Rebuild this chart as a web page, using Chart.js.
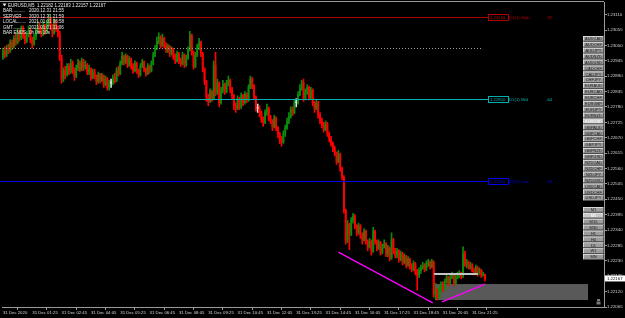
<!DOCTYPE html>
<html><head><meta charset="utf-8">
<script src="https://cdn.jsdelivr.net/npm/chart.js@4.4.1/dist/chart.umd.min.js"></script>
<style>html,body{margin:0;padding:0;background:#000;overflow:hidden}canvas{display:block}</style>
</head><body>
<canvas id="c" width="625" height="318"></canvas>
<script>
// ---- DATA (EURUSD M5, 31 Dec 2020) ----
const firstOpen = 1.22960;
const closes = [
1.22980,1.22965,1.22990,1.22980,1.23010,1.22995,1.23025,1.23010,1.23045,1.23025,
1.23060,1.23035,1.23015,1.23040,1.23055,1.23020,1.23005,1.23030,1.23050,1.23070,
1.23055,1.23040,1.23070,1.23050,1.23080,1.23095,1.23065,1.23045,1.23080,1.23060,
1.23040,1.22955,1.22880,1.22910,1.22895,1.22925,1.22905,1.22935,1.22910,1.22890,
1.22920,1.22935,1.22915,1.22940,1.22920,1.22930,1.22905,1.22915,1.22885,1.22905,
1.22890,1.22870,1.22895,1.22875,1.22890,1.22860,1.22880,1.22850,1.22865,1.22865,
1.22885,1.22875,1.22910,1.22900,1.22935,1.22960,1.22940,1.22960,1.22930,1.22950,
1.22925,1.22910,1.22935,1.22910,1.22895,1.22925,1.22940,1.22915,1.22900,1.22925,
1.22910,1.22935,1.22965,1.22990,1.23015,1.23030,1.23000,1.23025,1.23000,1.22985,
1.22995,1.22970,1.22985,1.22960,1.22945,1.22970,1.22945,1.22935,1.22965,1.22930,
1.22955,1.22985,1.23035,1.22975,1.22925,1.22965,1.22995,1.23010,1.22970,1.22915,
1.22870,1.22815,1.22800,1.22835,1.22810,1.22930,1.22830,1.22865,1.22795,1.22840,
1.22860,1.22835,1.22865,1.22875,1.22840,1.22820,1.22785,1.22775,1.22810,1.22780,
1.22820,1.22795,1.22825,1.22805,1.22850,1.22880,1.22855,1.22815,1.22775,1.22775,
1.22760,1.22735,1.22725,1.22760,1.22775,1.22740,1.22730,1.22710,1.22740,1.22705,
1.22685,1.22665,1.22655,1.22685,1.22705,1.22730,1.22745,1.22770,1.22760,1.22795,
1.22795,1.22825,1.22845,1.22865,1.22810,1.22835,1.22850,1.22815,1.22840,1.22795,
1.22775,1.22795,1.22750,1.22730,1.22715,1.22700,1.22720,1.22685,1.22665,1.22650,
1.22630,1.22615,1.22585,1.22610,1.22560,1.22530,1.22410,1.22305,1.22360,1.22325,
1.22375,1.22390,1.22355,1.22330,1.22355,1.22320,1.22305,1.22335,1.22300,1.22280,
1.22300,1.22265,1.22335,1.22300,1.22275,1.22295,1.22260,1.22280,1.22290,1.22255,
1.22275,1.22240,1.22305,1.22265,1.22250,1.22265,1.22235,1.22255,1.22225,1.22245,
1.22215,1.22235,1.22210,1.22200,1.22220,1.22190,1.22180,1.22195,1.22205,1.22215,
1.22200,1.22220,1.22225,1.22210,1.22225,1.22110,1.22125,1.22100,1.22125,1.22145,
1.22130,1.22155,1.22170,1.22150,1.22170,1.22180,1.22150,1.22170,1.22180,1.22185,
1.22175,1.22255,1.22215,1.22225,1.22205,1.22215,1.22195,1.22190,1.22205,1.22185,
1.22195,1.22180,1.22182,1.22167];
const highs = [
1.22990,1.22995,1.23000,1.23005,1.23020,1.23020,1.23035,1.23040,1.23060,1.23055,
1.23070,1.23070,1.23045,1.23050,1.23070,1.23060,1.23030,1.23040,1.23060,1.23085,
1.23080,1.23065,1.23085,1.23075,1.23090,1.23110,1.23100,1.23075,1.23095,1.23090,
1.23070,1.23050,1.22965,1.22920,1.22925,1.22935,1.22935,1.22950,1.22945,1.22920,
1.22930,1.22950,1.22945,1.22955,1.22950,1.22945,1.22935,1.22930,1.22920,1.22915,
1.22915,1.22895,1.22905,1.22900,1.22900,1.22895,1.22890,1.22885,1.22875,1.22880,
1.22895,1.22900,1.22920,1.22925,1.22945,1.22975,1.22965,1.22970,1.22965,1.22960,
1.22955,1.22935,1.22945,1.22940,1.22915,1.22935,1.22950,1.22945,1.22920,1.22935,
1.22930,1.22945,1.22975,1.23000,1.23030,1.23045,1.23035,1.23040,1.23030,1.23010,
1.23005,1.23000,1.22995,1.22990,1.22970,1.22980,1.22975,1.22955,1.22975,1.22970,
1.22965,1.22995,1.23050,1.23040,1.22980,1.22975,1.23005,1.23025,1.23015,1.22975,
1.22920,1.22875,1.22825,1.22845,1.22840,1.22945,1.22975,1.22880,1.22870,1.22850,
1.22875,1.22865,1.22875,1.22890,1.22880,1.22850,1.22825,1.22795,1.22820,1.22815,
1.22830,1.22825,1.22835,1.22830,1.22860,1.22890,1.22885,1.22860,1.22820,1.22790,
1.22785,1.22765,1.22745,1.22770,1.22790,1.22780,1.22750,1.22735,1.22750,1.22745,
1.22710,1.22690,1.22675,1.22695,1.22715,1.22740,1.22760,1.22780,1.22780,1.22805,
1.22810,1.22835,1.22860,1.22875,1.22880,1.22845,1.22860,1.22855,1.22850,1.22845,
1.22800,1.22805,1.22800,1.22760,1.22740,1.22725,1.22730,1.22725,1.22690,1.22675,
1.22655,1.22640,1.22620,1.22625,1.22615,1.22565,1.22535,1.22415,1.22375,1.22365,
1.22385,1.22400,1.22395,1.22360,1.22365,1.22360,1.22330,1.22345,1.22340,1.22305,
1.22310,1.22305,1.22350,1.22340,1.22305,1.22305,1.22300,1.22290,1.22305,1.22295,
1.22285,1.22280,1.22330,1.22310,1.22275,1.22275,1.22270,1.22265,1.22260,1.22255,
1.22250,1.22245,1.22240,1.22220,1.22230,1.22225,1.22200,1.22205,1.22215,1.22225,
1.22220,1.22230,1.22235,1.22230,1.22235,1.22230,1.22150,1.22130,1.22135,1.22155,
1.22155,1.22165,1.22180,1.22175,1.22180,1.22190,1.22185,1.22180,1.22190,1.22195,
1.22190,1.22280,1.22265,1.22235,1.22230,1.22225,1.22220,1.22205,1.22215,1.22210,
1.22205,1.22200,1.22190,1.22183];
const lows = [
1.22950,1.22955,1.22960,1.22970,1.22975,1.22985,1.22990,1.23000,1.23005,1.23015,
1.23020,1.23025,1.23005,1.23010,1.23030,1.23010,1.22990,1.23000,1.23020,1.23045,
1.23045,1.23030,1.23035,1.23040,1.23045,1.23070,1.23055,1.23030,1.23040,1.23050,
1.23030,1.22945,1.22865,1.22870,1.22880,1.22890,1.22895,1.22900,1.22900,1.22875,
1.22885,1.22910,1.22905,1.22910,1.22910,1.22915,1.22895,1.22895,1.22875,1.22880,
1.22880,1.22860,1.22865,1.22865,1.22870,1.22850,1.22855,1.22840,1.22840,1.22850,
1.22860,1.22865,1.22870,1.22890,1.22895,1.22930,1.22930,1.22935,1.22920,1.22925,
1.22915,1.22900,1.22905,1.22900,1.22885,1.22890,1.22920,1.22905,1.22890,1.22895,
1.22900,1.22905,1.22930,1.22960,1.22985,1.23005,1.22990,1.22995,1.22990,1.22975,
1.22975,1.22960,1.22965,1.22950,1.22935,1.22940,1.22935,1.22925,1.22930,1.22920,
1.22925,1.22950,1.22980,1.22965,1.22915,1.22920,1.22960,1.22985,1.22960,1.22905,
1.22860,1.22800,1.22785,1.22795,1.22800,1.22805,1.22820,1.22825,1.22780,1.22790,
1.22830,1.22825,1.22830,1.22855,1.22830,1.22810,1.22770,1.22760,1.22770,1.22770,
1.22775,1.22785,1.22790,1.22795,1.22800,1.22845,1.22845,1.22805,1.22765,1.22760,
1.22745,1.22725,1.22710,1.22720,1.22750,1.22730,1.22720,1.22695,1.22705,1.22695,
1.22670,1.22650,1.22640,1.22650,1.22675,1.22700,1.22720,1.22740,1.22750,1.22755,
1.22780,1.22790,1.22820,1.22840,1.22800,1.22805,1.22825,1.22805,1.22810,1.22785,
1.22760,1.22770,1.22740,1.22720,1.22705,1.22690,1.22695,1.22675,1.22655,1.22640,
1.22620,1.22605,1.22575,1.22580,1.22550,1.22520,1.22400,1.22290,1.22295,1.22270,
1.22320,1.22365,1.22345,1.22320,1.22325,1.22310,1.22290,1.22300,1.22290,1.22265,
1.22275,1.22250,1.22260,1.22290,1.22265,1.22270,1.22250,1.22255,1.22275,1.22245,
1.22245,1.22230,1.22235,1.22255,1.22240,1.22240,1.22225,1.22230,1.22215,1.22220,
1.22205,1.22210,1.22200,1.22190,1.22195,1.22180,1.22125,1.22170,1.22185,1.22200,
1.22190,1.22195,1.22210,1.22200,1.22205,1.22100,1.22095,1.22090,1.22095,1.22120,
1.22120,1.22125,1.22150,1.22140,1.22145,1.22165,1.22140,1.22145,1.22165,1.22170,
1.22165,1.22170,1.22210,1.22205,1.22200,1.22200,1.22190,1.22180,1.22185,1.22175,
1.22180,1.22170,1.22175,1.22157];

const yTicks = [1.23110,1.23055,1.23000,1.22945,1.22890,1.22835,1.22780,1.22725,1.22670,1.22615,
  1.22560,1.22505,1.22450,1.22395,1.22340,1.22285,1.22230,1.22175,1.22120,1.22065];
const xTickBars = [0,16,32,48,64,80,96,112,128,144,160,176,192,208,224,240,256];
const xLabels = ['31 Dec 2020','31 Dec 01:25','31 Dec 02:45','31 Dec 04:05','31 Dec 05:25','31 Dec 06:45',
  '31 Dec 08:05','31 Dec 09:25','31 Dec 10:45','31 Dec 12:05','31 Dec 13:25','31 Dec 14:45','31 Dec 16:05',
  '31 Dec 17:25','31 Dec 18:45','31 Dec 20:05','31 Dec 21:25'];

const levelPrices = [1.23103, 1.22810, 1.22516];
const levelNames = ['D1(1) High', 'D1(1) Mid', 'D1(1) Low'];
const levelPips = ['-92', '-64', '-36'];
const levelColors = ['#b00000', '#00b0b0', '#0000e6'];
const levelEndBar = 264.6;
const dottedLevel = 1.22990, dottedEndBar = 261.9;
const trendLines = [[183, 1.22261, 234.5, 1.22080], [239.5, 1.22083, 263, 1.22147]];
const rangeBox = [235.7, 1.22147, 319.2, 1.22090];
const rangeTop = [235.2, 259.1, 1.22183];

const symbols = ['AUDCAD','AUDCHF','AUDJPY','AUDNZD','AUDUSD','CADCHF','CADJPY','CHFJPY','EURAUD','EURCAD',
  'EURCHF','EURGBP','EURJPY','EURNZD','EURUSD','GBPAUD','GBPCAD','GBPCHF','GBPJPY','GBPNZD','GBPUSD',
  'NZDCAD','NZDCHF','NZDJPY','NZDUSD','USDCAD','USDCHF','USDJPY'];
const timeframes = ['M1','M5','M15','M30','H1','H4','D1','W1','MN'];
const infoHeader = 'EURUSD,M5  1.22182 1.22183 1.22157 1.22167';
const infoKeys = ['BAR..........','SERVER.....','LOCAL.......','GMT..........','BAR ENDS...'];
const infoVals = ['2020.12.31 21:55','2020.12.31 21:59','2021.01.01 06:58','2021.01.01 11:06','0h 0m 10s'];

// ---- build ----
const BULL = '#0a8c0a', BEAR = '#ff0000', DOJI = '#e0e0e0';
const opens = closes.map((c, i) => i === 0 ? firstOpen : closes[i - 1]);
const colors = closes.map((c, i) => c > opens[i] ? BULL : (c < opens[i] ? BEAR : DOJI));
const wickData = closes.map((c, i) => ({x: i, y: [lows[i], highs[i]]}));
const bodyData = closes.map((c, i) => ({x: i, y: [opens[i], c]}));
const FONT = '"Liberation Sans", Arial, sans-serif';

function button(ctx, x, y, w, h, text, hi) {
  ctx.fillStyle = hi ? '#c8c8c8' : '#9c9c9c';
  ctx.fillRect(x, y, w, h);
  ctx.fillStyle = '#e6e6e6';
  ctx.fillRect(x, y, w, 0.8); ctx.fillRect(x, y, 0.8, h);
  ctx.fillStyle = '#444';
  ctx.fillRect(x, y + h - 0.8, w, 0.8); ctx.fillRect(x + w - 0.8, y, 0.8, h);
  ctx.fillStyle = hi ? '#ffffff' : '#1c1c1c';
  ctx.font = '4px ' + FONT;
  ctx.textAlign = 'center'; ctx.textBaseline = 'middle';
  ctx.fillText(text, x + w / 2, y + h / 2 + 0.3);
}

const overlay = {
  id: 'overlay',
  beforeDatasetsDraw(chart) {
    const {ctx, scales: {x, y}} = chart;
    ctx.save();
    const x0 = x.getPixelForValue(rangeBox[0]), x1 = x.getPixelForValue(rangeBox[2]);
    const y0 = y.getPixelForValue(rangeBox[1]), y1 = y.getPixelForValue(rangeBox[3]);
    ctx.fillStyle = '#595959';
    ctx.fillRect(x0, y0, x1 - x0, y1 - y0);
    ctx.restore();
  },
  afterDatasetsDraw(chart) {
    const {ctx, scales: {x, y}} = chart;
    ctx.save();
    let yy = Math.round(y.getPixelForValue(dottedLevel)) + 0.5;
    ctx.strokeStyle = '#a0a0a0'; ctx.lineWidth = 1; ctx.setLineDash([1, 2]);
    ctx.beginPath(); ctx.moveTo(0, yy); ctx.lineTo(x.getPixelForValue(dottedEndBar), yy); ctx.stroke();
    ctx.setLineDash([]);
    const xe = x.getPixelForValue(levelEndBar);
    levelPrices.forEach((p, k) => {
      const ly = Math.round(y.getPixelForValue(p)) + 0.5;
      ctx.strokeStyle = levelColors[k]; ctx.lineWidth = 1;
      ctx.beginPath(); ctx.moveTo(0, ly); ctx.lineTo(xe, ly); ctx.stroke();
      ctx.strokeRect(Math.round(xe) + 0.5, ly - 3, 20, 6);
      ctx.fillStyle = levelColors[k];
      ctx.font = '4.3px ' + FONT; ctx.textBaseline = 'middle'; ctx.textAlign = 'left';
      ctx.fillText(p.toFixed(5), xe + 2, ly + 0.3);
      ctx.fillText(levelNames[k], xe + 21, ly + 0.3);
      ctx.fillText(levelPips[k], xe + 58, ly + 0.3);
    });
    ctx.strokeStyle = '#c4c4c4'; ctx.lineWidth = 2;
    const ry = y.getPixelForValue(rangeTop[2]);
    ctx.beginPath(); ctx.moveTo(x.getPixelForValue(rangeTop[0]), ry); ctx.lineTo(x.getPixelForValue(rangeTop[1]), ry); ctx.stroke();
    ctx.strokeStyle = '#ff00ff'; ctx.lineWidth = 1.3;
    trendLines.forEach(t => {
      ctx.beginPath();
      ctx.moveTo(x.getPixelForValue(t[0]), y.getPixelForValue(t[1]));
      ctx.lineTo(x.getPixelForValue(t[2]), y.getPixelForValue(t[3]));
      ctx.stroke();
    });
    ctx.restore();
  },
  afterDraw(chart) {
    const {ctx, scales: {x, y}, chartArea: a} = chart;
    ctx.save();
    ctx.fillStyle = '#9a9a9a';
    ctx.fillRect(0, 1, a.right, 1);
    ctx.fillStyle = '#e8e8e8';
    ctx.beginPath(); ctx.moveTo(2.5, 3.5); ctx.lineTo(6.5, 3.5); ctx.lineTo(4.5, 6.5); ctx.closePath(); ctx.fill();
    ctx.font = '4.5px ' + FONT; ctx.textBaseline = 'middle'; ctx.textAlign = 'left';
    ctx.fillText(infoHeader, 8, 5.3);
    infoKeys.forEach((k, i) => {
      const ty = 11 + i * 5.5;
      ctx.fillText(k, 3, ty);
      ctx.fillText(infoVals[i], 29, ty);
    });
    symbols.forEach((s, i) => button(ctx, 583, 36 + i * 5.9, 21, 5.5, s, s === 'EURUSD'));
    timeframes.forEach((s, i) => button(ctx, 583, 207 + i * 5.9, 21, 5.5, s, s === 'M5'));
    ctx.fillStyle = '#7a7a7a';
    ctx.fillRect(597, 299, 3, 2); ctx.fillRect(596.5, 301.5, 4, 3);
    const last = closes[closes.length - 1];
    const py = y.getPixelForValue(last);
    ctx.fillStyle = '#ffffff';
    ctx.fillRect(a.right + 1, py - 3, 21, 6);
    ctx.fillStyle = '#000000';
    ctx.font = '4.3px ' + FONT; ctx.textBaseline = 'middle'; ctx.textAlign = 'left';
    ctx.fillText(last.toFixed(5), a.right + 3, py + 0.3);
    ctx.restore();
  }
};

new Chart(document.getElementById('c').getContext('2d'), {
  type: 'bar',
  data: {
    datasets: [
      {data: bodyData, backgroundColor: colors, barThickness: 1.2, grouped: false, minBarLength: 1, borderWidth: 0},
      {data: wickData, backgroundColor: colors, barThickness: 1, grouped: false, borderWidth: 0}
    ]
  },
  options: {
    responsive: false, animation: false, devicePixelRatio: 1,
    layout: {padding: {left: 2, top: 1, right: 0, bottom: 0}},
    plugins: {legend: {display: false}, tooltip: {enabled: false}},
    scales: {
      x: {
        type: 'linear', min: -0.5, max: 327.9, offset: false,
        afterBuildTicks: s => { s.ticks = xTickBars.map(v => ({value: v})); },
        afterFit: s => { s.height = 11; },
        ticks: {autoSkip: false, maxRotation: 0, minRotation: 0, align: 'start', color: '#d4d4d4',
          padding: 0, font: {size: 4.3, family: FONT}, callback: (v, i) => xLabels[i]},
        grid: {drawOnChartArea: false, drawTicks: true, tickLength: 3, color: '#9a9a9a'},
        border: {display: true, color: '#9a9a9a'}
      },
      y: {
        type: 'linear', position: 'right', min: 1.22065, max: 1.23153,
        afterBuildTicks: s => { s.ticks = yTicks.map(v => ({value: v})); },
        afterFit: s => { s.width = 21; },
        ticks: {autoSkip: false, color: '#d4d4d4', padding: 0, font: {size: 4.3, family: FONT},
          callback: v => Number(v).toFixed(5)},
        grid: {drawOnChartArea: false, drawTicks: true, tickLength: 3, color: '#9a9a9a'},
        border: {display: true, color: '#9a9a9a'}
      }
    }
  },
  plugins: [overlay]
});
</script>
</body></html>
